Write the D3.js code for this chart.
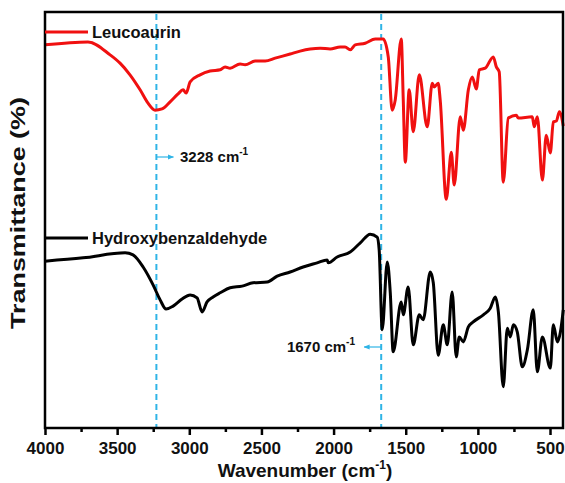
<!DOCTYPE html>
<html>
<head>
<meta charset="utf-8">
<script src="https://cdn.jsdelivr.net/npm/d3@7"></script>
<style>
	body { margin: 0; background: #fff; }
	text { font-family: "Liberation Sans", Arial, sans-serif; font-weight: bold; }
</style>
</head>
<body>
<div id="chart"></div>
<script>
// wavenumber (cm-1) and transmittance (arbitrary %, offset)
var leucoWn = [4000,3702,3549,3480,3411,3341,3286,3237,3189,3133,3078,3043,3022,2994,2925,2856,2786,2752,2717,2648,2613,2544,2474,2405,2301,2232,2162,2093,2024,1954,1920,1885,1850,1781,1711,1656,1621,1594,1573,1531,1517,1503,1476,1448,1406,1351,1316,1302,1275,1261,1219,1184,1164,1122,1101,1066,1039,1011,990,949,893,872,852,824,789,734,720,623,609,588,553,526,498,477,456,435,408];
var leucoT = [92.1,92.8,89.7,87.7,84.9,81.3,78.1,76.4,76.7,78.4,80.3,81.3,80.5,83.2,84.9,85.8,86.1,86.8,86.5,87.5,87.3,88.2,88.2,88.9,89.9,90.6,91.1,91.3,91.1,91.6,91.6,90.9,92.1,92.5,93.5,93.5,89.2,76.4,78.8,93.5,78.8,63.9,81.3,71.2,84.9,72.4,82.9,82.0,82.9,78.8,55.0,66.3,58.4,74.8,71.6,81.3,84.4,81.5,86.1,86.5,89.2,86.8,85.6,59.1,74.5,75.2,74.5,74.8,72.4,74.8,59.6,70.4,66.1,73.6,73.8,76.0,72.6];

var hydroWn = [4000,3736,3445,3390,3320,3251,3202,3161,3112,3050,2994,2946,2911,2877,2835,2786,2717,2634,2558,2460,2391,2301,2211,2114,2044,2037,1975,1885,1815,1746,1698,1684,1663,1628,1607,1587,1531,1517,1483,1448,1406,1379,1330,1309,1275,1240,1212,1178,1150,1129,1101,1066,1032,962,914,879,858,824,796,775,754,727,692,657,616,588,553,498,477,449,428,408];
var hydroT = [40.1,40.9,42.1,41.6,38.7,34.4,30.8,28.6,29.3,31.0,32.0,31.3,27.9,30.3,31.5,32.5,33.7,34.1,34.9,35.1,36.5,37.5,38.7,39.7,40.4,39.7,41.1,42.3,44.5,46.6,45.9,42.8,23.6,39.9,32.5,18.3,30.3,27.2,33.9,20.0,27.2,26.0,37.5,34.9,17.5,24.8,20.0,32.7,17.1,21.9,20.7,24.3,25.5,27.2,28.8,31.5,27.9,9.9,24.0,21.9,24.8,23.1,14.7,18.8,28.4,13.5,21.9,14.4,24.8,20.7,23.1,28.4];

var xTicks = [4000,3500,3000,2500,2000,1500,1000,500];
var minorTicks = [3750,3250,2750,2250,1750,1250,750];
var markers = [3228, 1670];

var width = 565, height = 483;
var mLeft = 45, mRight = 563, mTop = 12, mBottom = 428;

var svg = d3.select("#chart").append("svg")
	.attr("width", width).attr("height", height);

var xScale = d3.scaleLinear().domain([4000, 410]).range([mLeft, mRight]);
var yScale = d3.scaleLinear().domain([0, 100]).range([mBottom, mTop]);

var line = d3.line()
	.x(function(d) { return xScale(d[0]); })
	.y(function(d) { return yScale(d[1]); })
	.curve(d3.curveMonotoneX);

var blue = "#2fb4e6";

// dashed marker lines
svg.selectAll(".marker").data(markers).enter().append("line")
	.attr("x1", function(d) { return xScale(d); })
	.attr("x2", function(d) { return xScale(d); })
	.attr("y1", mTop + 2).attr("y2", mBottom)
	.attr("stroke", blue).attr("stroke-width", 2)
	.attr("stroke-dasharray", "6,4");

svg.append("path").datum(d3.zip(leucoWn, leucoT))
	.attr("d", line).attr("fill", "none")
	.attr("stroke", "#f01010").attr("stroke-width", 3).attr("stroke-linejoin", "round");

svg.append("path").datum(d3.zip(hydroWn, hydroT))
	.attr("d", line).attr("fill", "none")
	.attr("stroke", "#000").attr("stroke-width", 3).attr("stroke-linejoin", "round");

// frame
svg.append("rect")
	.attr("x", mLeft).attr("y", mTop)
	.attr("width", mRight - mLeft).attr("height", mBottom - mTop)
	.attr("fill", "none").attr("stroke", "#000").attr("stroke-width", 2.5);

// x axis
var xAxis = d3.axisBottom(xScale).tickValues(xTicks).tickSize(7).tickPadding(7).tickFormat(d3.format("d"));
var gx = svg.append("g").attr("transform", "translate(0," + mBottom + ")").call(xAxis);
gx.select(".domain").remove();
gx.selectAll(".tick line").attr("stroke-width", 2.5);
gx.selectAll(".tick text").attr("font-size", 17).attr("fill", "#111")
	.style("font-family", "'Liberation Sans', Arial, sans-serif").style("font-weight", "bold");

var gm = svg.append("g").attr("transform", "translate(0," + mBottom + ")")
	.call(d3.axisBottom(xScale).tickValues(minorTicks).tickSize(4).tickFormat(""));
gm.select(".domain").remove();
gm.selectAll(".tick line").attr("stroke-width", 2.5);

// axis titles
var xt = svg.append("text").attr("x", 305).attr("y", 477)
	.attr("text-anchor", "middle").attr("font-size", 19).attr("fill", "#111");
xt.append("tspan").text("Wavenumber (cm");
xt.append("tspan").attr("dy", -8).attr("font-size", 12).text("-1");
xt.append("tspan").attr("dy", 8).text(")");

svg.append("text")
	.attr("transform", "translate(25,213) rotate(-90)")
	.attr("text-anchor", "middle").attr("font-size", 20).attr("fill", "#111")
	.attr("textLength", 232).attr("lengthAdjust", "spacingAndGlyphs")
	.text("Transmittance (%)");

// legends
var legends = [
	{ name: "Leucoaurin", color: "#f01010", y: 32 },
	{ name: "Hydroxybenzaldehyde", color: "#000", y: 238 }
];
legends.forEach(function(l) {
	svg.append("line").attr("x1", mLeft).attr("x2", 88)
		.attr("y1", l.y).attr("y2", l.y)
		.attr("stroke", l.color).attr("stroke-width", 3);
	svg.append("text").attr("x", 92).attr("y", l.y + 6)
		.attr("font-size", 16.5).attr("fill", "#111").text(l.name);
});

// annotations
svg.append("defs").append("marker")
	.attr("id", "arr").attr("viewBox", "0 0 10 10")
	.attr("refX", 9).attr("refY", 5)
	.attr("markerWidth", 5).attr("markerHeight", 5)
	.attr("orient", "auto")
	.append("path").attr("d", "M0,1 L10,5 L0,9 Z").attr("fill", blue);

function annotate(wn, y, dir, label, tx, anchor) {
	var x0 = xScale(wn);
	svg.append("line").attr("x1", x0).attr("x2", x0 + dir * 17)
		.attr("y1", y).attr("y2", y)
		.attr("stroke", blue).attr("stroke-width", 1.2)
		.attr("marker-end", "url(#arr)");
	var t = svg.append("text").attr("x", tx).attr("y", y + 5)
		.attr("text-anchor", anchor).attr("font-size", 15).attr("fill", "#111");
	t.append("tspan").text(label + " cm");
	t.append("tspan").attr("dy", -7).attr("font-size", 10).text("-1");
}
annotate(3228, 157, 1, "3228", 180, "start");
annotate(1670, 347, -1, "1670", 355, "end");
</script>
</body>
</html>
